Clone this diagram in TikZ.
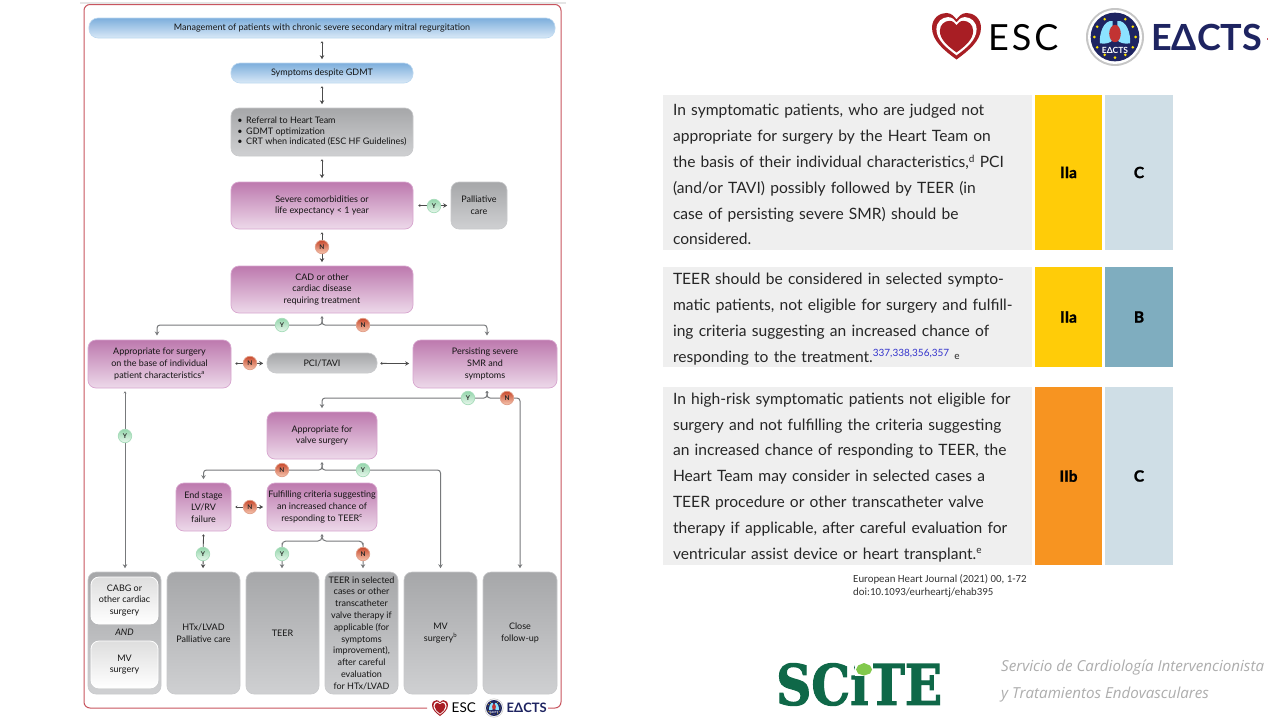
\documentclass[tikz,border=0pt]{standalone}
\usepackage{fontspec}
\setmainfont{Lato}
\newfontfamily\docfont{Carlito}
\newfontfamily\sitefont{Open Sans}
\newfontfamily\slabfont[BoldFeatures={FakeBold=2}]{DejaVu Serif}
\usetikzlibrary{arrows.meta,shapes.geometric}
\definecolor{frameR}{HTML}{C8555F}
\definecolor{lineG}{HTML}{77797B}
\definecolor{navyE}{HTML}{1E2461}
\definecolor{heartR}{HTML}{A81E24}
\definecolor{sciteG}{HTML}{0F6848}
\definecolor{rowG}{HTML}{EFEFEF}
\definecolor{clsA}{HTML}{FFCC08}
\definecolor{clsB}{HTML}{F79421}
\definecolor{lvlC}{HTML}{CFDEE6}
\definecolor{lvlB}{HTML}{7FADBF}
\definecolor{refB}{HTML}{3333CC}
\definecolor{purT}{HTML}{BD79AE}
\definecolor{purB}{HTML}{EDD9EA}
\definecolor{purE}{HTML}{D8A6CF}
\definecolor{bluT}{HTML}{7DAEDC}
\definecolor{bluB}{HTML}{D9E9F7}
\definecolor{bluE}{HTML}{BCD8F0}
\definecolor{gryT}{HTML}{A6A7A9}
\definecolor{gryB}{HTML}{CFD0D2}
\definecolor{gryE}{HTML}{C8C9CB}
\definecolor{yesT}{HTML}{93D5AB}
\definecolor{yesB}{HTML}{E8F7EC}
\definecolor{yesE}{HTML}{A8DDBB}
\definecolor{noT}{HTML}{C8492C}
\definecolor{noB}{HTML}{F6C6AF}
\definecolor{noE}{HTML}{E2A08A}
\pgfdeclarelayer{page}\pgfdeclarelayer{edges}\pgfsetlayers{page,edges,main}
\newcommand\flowbox[7]{\pgfmathsetmacro\fbw{#5-#3}\pgfmathsetmacro\fbh{#6-#4}%
  \node[#2,minimum width=\fbw pt,minimum height=\fbh pt] (#1) at ({(#3+#5)/2},{(#4+#6)/2}) {#7};}
\newcommand\supr[1]{\raisebox{5.5pt}{\fontsize{10}{10}\selectfont #1}}
\newcommand\heartpath{(0,1) .. controls (-.5,.62) and (-1,.2) .. (-1,-.35) .. controls (-1,-.75) and (-.7,-.98) .. (-.42,-.98) .. controls (-.2,-.98) and (-.08,-.82) .. (0,-.7) .. controls (.08,-.82) and (.2,-.98) .. (.42,-.98) .. controls (.7,-.98) and (1,-.75) .. (1,-.35) .. controls (1,.2) and (.5,.62) .. (0,1) -- cycle}
\newcommand\heartlogo[4]{\begin{scope}[shift={(#1,#2)},x=#3pt,y=-#4pt]
  \fill[heartR] \heartpath;
  \fill[white,scale=.82] \heartpath;
  \fill[heartR,scale=.68,shift={(0,.03)}] \heartpath;
  \end{scope}}
\newcommand\eactslogo[5]{\begin{scope}[shift={(#1,#2)},x=#3pt,y=-#3pt]
  \fill[gray!45] (0,0) circle (1);
  \fill[white] (0,0) circle (.93);
  \fill[navyE] (0,0) circle (.84);
  \fill[blue!25!cyan!45!white] (-.08,-.55) .. controls (-.4,-.6) and (-.55,-.1) .. (-.52,.22) .. controls (-.3,.25) and (-.15,.2) .. (-.08,.1) -- cycle;
  \fill[blue!25!cyan!45!white] (.08,-.55) .. controls (.4,-.6) and (.55,-.1) .. (.52,.22) .. controls (.3,.25) and (.15,.2) .. (.08,.1) -- cycle;
  \fill[red!70!black!80!white] (0,-.12) ellipse (.2 and .3);
  \foreach \a in {-60,-30,0,30,60,90,120,150,180,210,240}{\fill[yellow!85!orange] (\a:.71) circle (.05);}
  \node[font=\fontsize{#4}{#4}\selectfont\bfseries,text=white,inner sep=0] (#5) at (0,.46) {EΔCTS};
  \end{scope}}
\tikzset{
 flowtext/.style={font=\fontsize{9}{11.8}\selectfont,text=black!92,align=center,inner sep=0,rounded corners=8pt},
 bluebox/.style={flowtext,draw=bluE,line width=.6pt,top color=bluT,bottom color=bluB},
 purplebox/.style={flowtext,draw=purE,line width=.7pt,top color=purT,bottom color=purB},
 greybox/.style={flowtext,draw=gryE,line width=.6pt,top color=gryT,bottom color=gryB},
 whitebox/.style={flowtext,draw=white,line width=.8pt,top color=black!13,bottom color=white},
 yesmark/.style={circle,inner sep=0,minimum size=13.5pt,draw=yesE,line width=.7pt,top color=yesT,bottom color=yesB,font=\fontsize{6.5}{7}\selectfont\bfseries,text=black!85},
 nomark/.style={circle,inner sep=0,minimum size=13.5pt,draw=noE,line width=.7pt,top color=noT,bottom color=noB,font=\fontsize{6.5}{7}\selectfont\bfseries,text=black!85},
 conn/.style={draw=black!70,line width=.8pt,{Stealth[length=2pt,width=3pt]}-{Stealth[length=4pt,width=4.5pt]},shorten <=3pt,shorten >=3.5pt},
 branch/.style={draw=lineG,line width=1pt,rounded corners=3pt,{Stealth[length=2pt,width=3pt]}-{Stealth[length=4pt,width=4.5pt]},shorten <=3pt,shorten >=3.5pt},
 cell/.style={inner sep=0,font=\fontsize{15.5}{18}\selectfont\bfseries\addfontfeature{FakeBold=1.5},text=black},
 rectext/.style={inner sep=0,font=\fontsize{15.6}{25.8}\selectfont,text=black!85,fill=rowG,align=left,text width=349pt},
}
\begin{document}
\begin{tikzpicture}[x=1pt,y=-1pt]
\useasboundingbox (0,0) rectangle (1280,720);
\begin{pgfonlayer}{page}
\fill[white] (0,0) rectangle (1280,720);
\draw[black!10,line width=1.2pt] (80,3) -- (566,3);
\draw[frameR,line width=1pt,rounded corners=6pt] (427,708) -- (84,708) -- (84,4.5) -- (561,4.5) -- (561,708) -- (548,708);
\end{pgfonlayer}

% flow boxes
\flowbox{title}{bluebox,rounded corners=9pt}{89}{18}{555}{38}{Management of patients with chronic severe secondary mitral regurgitation}
\flowbox{sympt}{bluebox,rounded corners=9pt}{231}{63}{413}{83}{Symptoms despite GDMT}
\flowbox{refer}{greybox}{231}{108}{413}{156}{\begin{tabular}{@{}l@{}}\textbullet\hspace{3.5pt}Referral to Heart Team\\[-1.2pt]\textbullet\hspace{3.5pt}GDMT optimization\\[-1.2pt]\textbullet\hspace{3.5pt}CRT when indicated (ESC HF Guidelines)\end{tabular}}
\flowbox{sever}{purplebox}{231}{182}{413}{229}{Severe comorbidities or\\life expectancy < 1 year}
\flowbox{palli}{greybox}{451}{182}{507}{229}{Palliative\\care}
\flowbox{cadis}{purplebox}{231}{266}{413}{313}{CAD or other\\cardiac disease\\requiring treatment}
\flowbox{apsur}{purplebox}{88}{340}{231}{388}{Appropriate for surgery\\on the base of individual\\patient characteristics\textsuperscript{a}}
\flowbox{pcita}{greybox,rounded corners=9pt}{267}{353}{377}{373}{PCI/TAVI}
\flowbox{persi}{purplebox}{413}{340}{557}{388}{Persisting severe\\SMR and\\symptoms}
\flowbox{valve}{purplebox}{267}{412}{377}{459}{Appropriate for\\valve surgery}
\flowbox{endst}{purplebox}{176}{483}{231}{531}{End stage\\LV/RV\\failure}
\flowbox{fulfi}{purplebox}{267}{483}{377}{531}{Fulfilling criteria suggesting\\an increased chance of\\responding to TEER\textsuperscript{c}}
\flowbox{boxa}{greybox}{88}{572}{161}{694}{}
\flowbox{cabg}{whitebox}{91}{577}{158}{624}{CABG or\\other cardiac\\surgery}
\node[flowtext,font=\fontsize{9}{11}\selectfont\itshape] (andw) at (124.5,632) {AND};
\flowbox{mvsa}{whitebox}{91}{641}{158}{688}{MV\\surgery}
\flowbox{boxb}{greybox}{167}{572}{240}{694}{HTx/LVAD\\Palliative care}
\flowbox{boxc}{greybox}{246}{572}{319}{694}{TEER}
\flowbox{boxd}{greybox}{325}{572}{398}{694}{TEER in selected\\cases or other\\transcatheter\\valve therapy if\\applicable (for\\symptoms\\improvement),\\after careful\\evaluation\\for HTx/LVAD}
\flowbox{boxe}{greybox}{404}{572}{477}{694}{MV\\surgery\textsuperscript{b}}
\flowbox{boxf}{greybox}{483}{572}{557}{694}{Close\\follow-up}

% decision marks
\node[yesmark] (m1) at (434,206) {Y};
\node[nomark] (m2) at (322,247) {N};
\node[yesmark] (m3) at (282,325) {Y};
\node[nomark] (m4) at (363,325) {N};
\node[nomark] (m5) at (250,363) {N};
\node[yesmark] (m6) at (125,436) {Y};
\node[yesmark] (m7) at (468,398) {Y};
\node[nomark] (m8) at (507,398) {N};
\node[nomark] (m9) at (282,470) {N};
\node[yesmark] (m10) at (363,470) {Y};
\node[nomark] (m11) at (250,507) {N};
\node[yesmark] (m12) at (203,554) {Y};
\node[yesmark] (m13) at (282,554) {Y};
\node[nomark] (m14) at (363,554) {N};

\coordinate (j1) at (322,325);
\coordinate (j1a) at (157,340);
\coordinate (j1b) at (487,340);
\coordinate (j2s) at (487,388);
\coordinate (j2) at (487,398);
\coordinate (j3) at (322,470);
\coordinate (j4) at (322,541);
\begin{pgfonlayer}{edges}
\draw[conn] (title) -- (sympt);
\draw[conn] (sympt) -- (refer);
\draw[conn] (refer) -- (sever);
\draw[conn,shorten <=5pt] (sever) -- (palli);
\draw[conn] (sever) -- (cadis);
\draw[branch,shorten >=4.5pt] (cadis.south) -- (j1) -| (j1a);
\draw[branch,shorten >=4.5pt] (cadis.south) -- (j1) -| (j1b);
\draw[conn,shorten <=4pt] (apsur) -- (pcita);
\draw[conn] (pcita) -- (persi);
\draw[branch] (m6 |- apsur.south) -- (m6 |- boxa.north);
\draw[branch] (j2s) -- (j2) -| (valve.north);
\draw[branch] (j2s) -- (j2) -| (boxf.north);
\draw[branch] (valve.south) -- (j3) -| (endst.north);
\draw[branch] (valve.south) -- (j3) -| (boxe.north);
\draw[conn,shorten <=4pt] (endst) -- (fulfi);
\draw[conn] (endst.south) -- (m12 |- boxb.north);
\draw[branch,rounded corners=4pt] (fulfi.south) -- (j4) -| (m13.north) -- (m13 |- boxc.north);
\draw[branch,rounded corners=4pt] (fulfi.south) -- (j4) -| (m14.north) -- (m14 |- boxd.north);
\end{pgfonlayer}

% small logos in the frame
\heartlogo{440}{708}{8}{8}
\node[inner sep=0,font=\fontsize{13.5}{14}\selectfont,text=black,anchor=west] (escs) at (451.5,708) {ESC};
\eactslogo{494}{708}{9.5}{2.8}{eas}
\node[inner sep=0,font=\fontsize{13}{14}\selectfont\bfseries,text=navyE,anchor=west] (eat) at (506.5,708) {EΔCTS};

% big logos
\heartlogo{956.5}{36}{24.5}{23.5}
\node[inner sep=0,font=\fontsize{36}{38}\selectfont\addfontfeature{LetterSpace=8},text=black,anchor=west] (escb) at (988,38) {ESC};
\eactslogo{1115}{37}{29}{8.5}{eab}
\node[inner sep=0,font=\fontsize{36}{38}\selectfont\bfseries,text=navyE,anchor=west] (eatb) at (1151,37) {EΔCTS};
\fill[frameR] (1267,38) rectangle (1268,40);

% recommendations table
\flowbox{ra}{rectext}{663}{95}{1032}{250}{\rule{0pt}{16pt}In symptomatic patients, who are judged not\\appropriate for surgery by the Heart Team on\\the basis of their individual characteristics,\supr{d} PCI\\(and/or TAVI) possibly followed by TEER (in\\case of persisting severe SMR) should be\\considered.}
\flowbox{rb}{rectext}{663}{267}{1032}{367}{\rule{0pt}{16pt}TEER should be considered in selected sympto-\\matic patients, not eligible for surgery and fulfill-\\ing criteria suggesting an increased chance of\\responding to the treatment.\supr{\textcolor{refB}{337,338,356,357}} {\fontsize{10}{12}\selectfont\raisebox{3pt}{e}}}
\flowbox{rc}{rectext}{663}{387}{1032}{565}{\rule{0pt}{14pt}In high-risk symptomatic patients not eligible for\\surgery and not fulfilling the criteria suggesting\\an increased chance of responding to TEER, the\\Heart Team may consider in selected cases a\\TEER procedure or other transcatheter valve\\therapy if applicable, after careful evaluation for\\ventricular assist device or heart transplant.\supr{e}}
\flowbox{ca1}{cell,fill=clsA}{1035}{95}{1102}{250}{IIa}
\flowbox{ca2}{cell,fill=lvlC}{1105}{95}{1173}{250}{C}
\flowbox{cb1}{cell,fill=clsA}{1035}{267}{1102}{367}{IIa}
\flowbox{cb2}{cell,fill=lvlB}{1105}{267}{1173}{367}{B}
\flowbox{cc1}{cell,fill=clsB}{1035}{387}{1102}{565}{IIb}
\flowbox{cc2}{cell,fill=lvlC}{1105}{387}{1173}{565}{C}

\node[inner sep=0,anchor=north west,align=left,text=black!80,font=\docfont\fontsize{10.85}{13}\selectfont] (cite) at (853,574) {European Heart Journal (2021) 00, 1-72\\doi:10.1093/eurheartj/ehab395};

% SCITE logo
\node[inner sep=0,anchor=west,text=sciteG,font=\slabfont\bfseries\fontsize{56}{60}\selectfont] (scite) at (776,684) {\scalebox{.87}[1]{SCiTE}};
\fill[white] (855,661) rectangle (873,676);
\fill[green!40!olive!70!white] (864,663) -- (870,665.5) -- (872,669.5) -- (870,673.5) -- (864,675.5) -- (858,673.5) -- (856,669.5) -- (858,665.5) -- cycle;
\node[inner sep=0,anchor=west,text=black!32,font=\sitefont\itshape\fontsize{15.15}{16}\selectfont] (sita) at (1001,668) {Servicio de Cardiología Intervencionista};
\node[inner sep=0,anchor=west,text=black!32,font=\sitefont\itshape\fontsize{15.15}{16}\selectfont] (sitb) at (1001,695) {y Tratamientos Endovasculares};
\end{tikzpicture}
\end{document}
